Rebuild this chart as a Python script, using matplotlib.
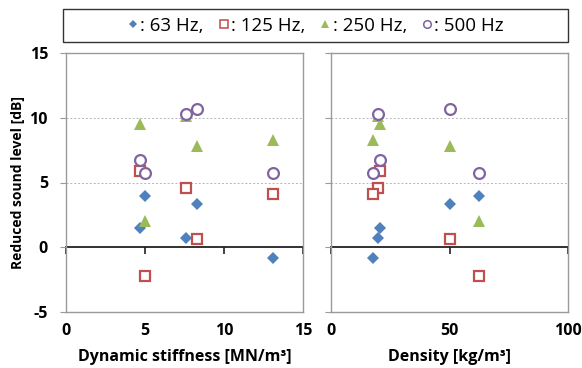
import matplotlib
matplotlib.use("Agg")
import matplotlib.pyplot as plt
from matplotlib.lines import Line2D
from matplotlib.patches import Rectangle

# Data
stiffness = [4.7, 5.0, 7.6, 8.3, 13.1]      # MN/m3
density = [20.8, 62.3, 20.0, 50.0, 17.9]    # kg/m3
hz63 = [1.45, 3.95, 0.75, 3.35, -0.85]
hz125 = [5.9, -2.25, 4.6, 0.64, 4.15]
hz250 = [9.55, 2.0, 10.1, 7.8, 8.3]
hz500 = [6.72, 5.7, 10.32, 10.7, 5.7]
series_labels = [": 63 Hz,", ": 125 Hz,", ": 250 Hz,", ": 500 Hz"]
left_xticks = [0, 5, 10, 15]
right_xticks = [0, 50, 100]
yticks = [-5, 0, 5, 10, 15]

BLUE = "#4F81BD"
RED = "#C0504D"
GREEN = "#9BBB59"
PURPLE = "#8064A2"
FRAME = "#9a9a9a"

plt.rcParams['font.family'] = ['Open Sans', 'DejaVu Sans']
plt.rcParams['axes.unicode_minus'] = False

fig = plt.figure(figsize=(5.82, 3.68), dpi=100)
bottom = 1 - 312 / 368
top = 1 - 53 / 368
axL = fig.add_axes([66 / 582, bottom, (303 - 66) / 582, top - bottom])
axR = fig.add_axes([331 / 582, bottom, (568 - 331) / 582, top - bottom])

styles = [
    dict(marker="D", color=BLUE, ms=6.5, mfc=BLUE, mec=BLUE, mew=0),
    dict(marker="s", color=RED, ms=7.5, mfc="white", mec=RED, mew=1.6),
    dict(marker="^", color=GREEN, ms=8.5, mfc=GREEN, mec=GREEN, mew=0),
    dict(marker="o", color=PURPLE, ms=7.8, mfc="white", mec=PURPLE, mew=1.6),
]
ydata = [hz63, hz125, hz250, hz500]


def setup(ax, xs, xticks, xlim, xlabel, show_ylabels):
    for yv, st in zip(ydata, styles):
        ax.plot(xs, yv, linestyle="none", zorder=3, **st)
    ax.set_xlim(*xlim)
    ax.set_ylim(-5, 15)
    for s in ax.spines.values():
        s.set_color(FRAME)
        s.set_linewidth(1.0)
    ax.set_yticks(yticks)
    ax.tick_params(axis="y", direction="out", length=4, color=FRAME,
                   labelsize=11.5, pad=9, labelleft=show_ylabels)
    for lab in ax.get_yticklabels():
        lab.set_fontweight("bold")
    for yv in [5, 10]:
        ax.axhline(yv, color="#b5b5b5", lw=0.7, ls=(0, (2, 2)), zorder=1)
    ax.set_xticks(xticks)
    ax.tick_params(axis="x", length=0, labelsize=11.5, pad=8)
    for lab in ax.get_xticklabels():
        lab.set_fontweight("bold")
    ax.set_xlabel(xlabel, fontsize=11.5, fontweight="bold", labelpad=7)
    sec = ax.secondary_xaxis(0.25)
    sec.set_xticks(xticks)
    sec.tick_params(axis="x", direction="out", length=5, width=1.2,
                    color="#222222", labelbottom=False)
    sec.spines["bottom"].set_color("#222222")
    sec.spines["bottom"].set_linewidth(1.3)


setup(axL, stiffness, left_xticks, (0, 15), "Dynamic stiffness [MN/m³]", True)
setup(axR, density, right_xticks, (0, 100), "Density [kg/m³]", False)
axL.set_ylabel("Reduced sound level [dB]", fontsize=10, fontweight="bold", labelpad=3)

# Legend box
fig.patches.append(Rectangle((63 / 582, 1 - 42 / 368), (568 - 63) / 582, 33 / 368,
                             transform=fig.transFigure, fill=False,
                             edgecolor="#333333", lw=1.0))
handles = []
for st in styles:
    d = dict(st)
    d["ms"] = d["ms"] * 0.7
    d["mew"] = d["mew"] * 0.7
    handles.append(Line2D([], [], linestyle="none", **d))
fig.legend(handles, series_labels, loc="center", bbox_to_anchor=(315 / 582, 1 - 26 / 368),
           ncol=4, frameon=False, handlelength=0.7, handletextpad=0.05,
           columnspacing=0.7, prop={"family": ["Open Sans", "DejaVu Sans"], "size": 13.5})

fig.savefig("out.png", dpi=100)
